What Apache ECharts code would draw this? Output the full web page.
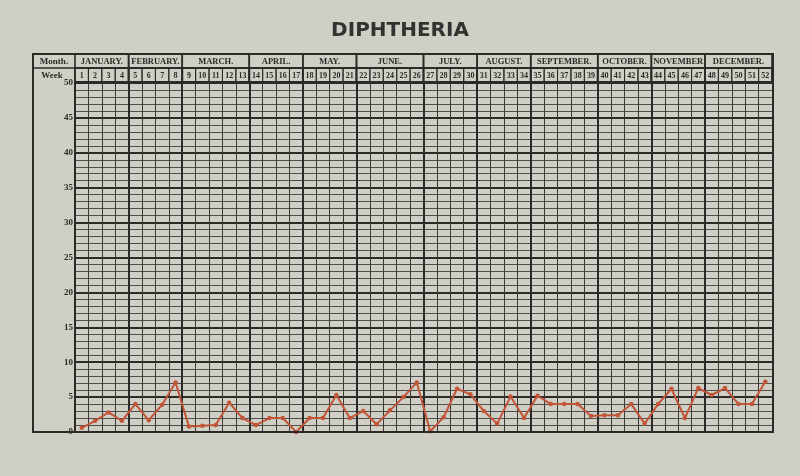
<!DOCTYPE html>
<html><head><meta charset="utf-8">
<script src="https://cdn.jsdelivr.net/npm/echarts@6/dist/echarts.min.js"></script>
<style>html,body{margin:0;padding:0;background:#d0cfc5;}#c{width:800px;height:476px;}</style>
</head><body><div id="c"></div>
<script>
const months = ['JANUARY.','FEBRUARY.','MARCH.','APRIL.','MAY.','JUNE.','JULY.','AUGUST.','SEPTEMBER.','OCTOBER.','NOVEMBER','DECEMBER.'];
const weeksPerMonth = [4,4,5,4,4,5,4,4,5,4,4,5];
const weeks = [1,2,3,4,5,6,7,8,9,10,11,12,13,14,15,16,17,18,19,20,21,22,23,24,25,26,27,28,29,30,31,32,33,34,35,36,37,38,39,40,41,42,43,44,45,46,47,48,49,50,51,52];
const cases = [0.6,1.6,2.8,1.6,4,1.7,3.9,7.1,0.8,0.9,1,4.2,2,1,2,2,0,2,2,5.3,2,3,1.1,3.1,5,7.1,0.1,2.1,6.2,5.4,3,1.2,5.1,2,5.2,4,4,4,2.3,2.4,2.4,4,1.2,4,6.2,2,6.3,5.3,6.3,4,4,7.2];
const yTicks = [0,5,10,15,20,25,30,35,40,45,50];

const INK = '#2b2a28';
const SERIF = '"Liberation Serif", "DejaVu Serif", serif';

const monthSpans = [];
let acc = 0;
weeksPerMonth.forEach((n, i) => { monthSpans.push([acc, acc + n, i]); acc += n; });
const boundaries = monthSpans.slice(0, -1).map(s => s[1]);
const weekSpans = weeks.map((w, i) => [i, i + 1, i]);

function cellRenderer(labels, font, lw) {
  return function (params, api) {
    const s = api.value(0), e = api.value(1);
    const p1 = api.coord([s, 1]), p2 = api.coord([e, 0]);
    return {
      type: 'group',
      children: [
        { type: 'rect', shape: { x: p1[0], y: p1[1], width: p2[0] - p1[0], height: p2[1] - p1[1] },
          style: { fill: 'none', stroke: INK, lineWidth: lw } },
        { type: 'text', x: (p1[0] + p2[0]) / 2, y: (p1[1] + p2[1]) / 2 + 0.5,
          style: { text: String(labels[params.dataIndex]), fill: INK, font: font, align: 'center', verticalAlign: 'middle' } }
      ]
    };
  };
}
function boxRenderer(lw) {
  return function (params, api) {
    const p1 = api.coord([api.value(0), 1]), p2 = api.coord([api.value(1), 0]);
    return { type: 'rect', shape: { x: p1[0], y: p1[1], width: p2[0] - p1[0], height: p2[1] - p1[1] },
      style: { fill: 'none', stroke: INK, lineWidth: lw } };
  };
}

const chart = echarts.init(document.getElementById('c'), null, { renderer: 'canvas' });
const hiddenAxis = { show: false, type: 'value' };
chart.setOption({
  backgroundColor: '#d0cfc5',
  animation: false,
  title: {
    text: 'DIPHTHERIA', left: 'center', top: 16,
    textStyle: { fontFamily: '"DejaVu Sans", sans-serif', fontWeight: 'bold', fontSize: 20, color: '#333230' }
  },
  grid: [
    { left: 75, right: 28, top: 83, bottom: 44 },
    { left: 75, right: 28, top: 54, height: 14 },
    { left: 75, right: 28, top: 68, height: 14 }
  ],
  xAxis: [
    { type: 'value', gridIndex: 0, min: 0, max: 52, interval: 1,
      axisLabel: { show: false }, axisTick: { show: false },
      axisLine: { show: true, lineStyle: { color: INK, width: 2 } },
      splitLine: { show: true, lineStyle: { color: '#3a3936', width: 1 } } },
    Object.assign({ gridIndex: 1, min: 0, max: 52 }, hiddenAxis),
    Object.assign({ gridIndex: 2, min: 0, max: 52 }, hiddenAxis)
  ],
  yAxis: [
    { type: 'value', gridIndex: 0, min: 0, max: 50, interval: 5,
      axisLine: { show: true, lineStyle: { color: INK, width: 2 } },
      axisTick: { show: false },
      axisLabel: { color: INK, fontFamily: SERIF, fontWeight: 'bold', fontSize: 9, margin: 2,
        formatter: v => yTicks.indexOf(v) >= 0 ? String(v) : '' },
      splitLine: { show: true, lineStyle: { color: INK, width: 2 } },
      minorTick: { show: false, splitNumber: 5 },
      minorSplitLine: { show: true, lineStyle: { color: '#4f4e4a', width: 1 } } },
    Object.assign({ gridIndex: 1, min: 0, max: 1 }, hiddenAxis),
    Object.assign({ gridIndex: 2, min: 0, max: 1 }, hiddenAxis)
  ],
  graphic: [
    { type: 'rect', shape: { x: 33, y: 54, width: 740, height: 378 }, style: { fill: 'none', stroke: INK, lineWidth: 2 }, z: 10 },
    { type: 'line', shape: { x1: 33, y1: 68, x2: 75, y2: 68 }, style: { stroke: INK, lineWidth: 1.5 }, z: 10 },
    { type: 'text', x: 54, y: 61.5, style: { text: 'Month.', font: 'bold 9px ' + SERIF, fill: INK, align: 'center', verticalAlign: 'middle' }, z: 10 },
    { type: 'text', x: 52, y: 75.5, style: { text: 'Week', font: 'bold 9px ' + SERIF, fill: INK, align: 'center', verticalAlign: 'middle' }, z: 10 }
  ],
  series: [
    { type: 'custom', xAxisIndex: 1, yAxisIndex: 1, silent: true, data: monthSpans,
      renderItem: cellRenderer(months, 'bold 8.5px ' + SERIF, 1.6) },
    { type: 'custom', xAxisIndex: 2, yAxisIndex: 2, silent: true, data: weekSpans,
      renderItem: cellRenderer(weeks, 'bold 8px ' + SERIF, 1) },
    { type: 'custom', xAxisIndex: 2, yAxisIndex: 2, silent: true, data: monthSpans,
      renderItem: boxRenderer(1.8) },
    { type: 'line', xAxisIndex: 0, yAxisIndex: 0, silent: true,
      data: cases.map((v, i) => [i + 0.5, v]),
      symbol: 'circle', symbolSize: 4.5,
      lineStyle: { color: '#c25438', width: 2 },
      itemStyle: { color: '#c25438' },
      z: 5,
      markLine: { silent: true, symbol: 'none', label: { show: false },
        lineStyle: { color: INK, width: 2, type: 'solid' },
        data: boundaries.map(b => ({ xAxis: b })) } }
  ]
});
</script></body></html>
